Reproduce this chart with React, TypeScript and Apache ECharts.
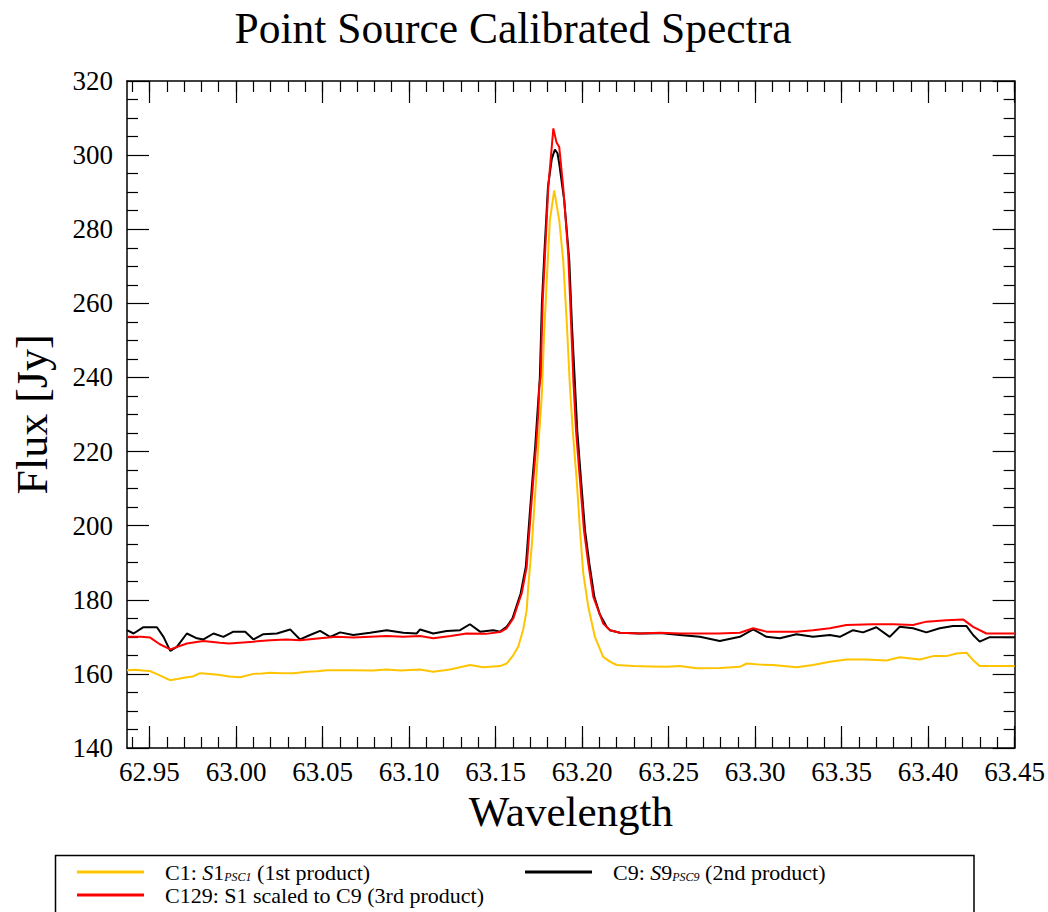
import React, { useEffect, useRef } from "react";
import * as echarts from "echarts";

// Wavelength / flux pairs
const c1Data: [number, number][] = [
  [62.937, 161.0], [62.942, 161.1], [62.946, 160.9], [62.95, 160.8], [62.955, 159.8],
  [62.959, 158.9], [62.962, 158.3], [62.966, 158.6], [62.9716, 159.1], [62.975, 159.3],
  [62.9793, 160.2], [62.985, 160.0], [62.9908, 159.7], [62.996, 159.3], [63.0024, 159.1],
  [63.0101, 160.0], [63.015, 160.1], [63.0197, 160.3], [63.026, 160.2], [63.0332, 160.2],
  [63.0409, 160.6], [63.047, 160.7], [63.0525, 161.0], [63.06, 161.0], [63.0678, 161.0],
  [63.0794, 160.9], [63.0871, 161.2], [63.095, 160.9], [63.1064, 161.2], [63.114, 160.6],
  [63.1237, 161.2], [63.1352, 162.4], [63.1429, 161.8], [63.1526, 162.1], [63.1564, 162.8],
  [63.1602, 165.0], [63.1631, 167.3], [63.166, 172.0], [63.168, 177.2], [63.1689, 183.5],
  [63.1709, 194.3], [63.1728, 207.8], [63.1747, 221.3], [63.1767, 234.8], [63.178, 250.9],
  [63.1799, 268.9], [63.1814, 282.4], [63.1839, 290.5], [63.1868, 282.4], [63.1891, 271.6],
  [63.1911, 255.4], [63.193, 237.5], [63.1946, 225.8], [63.1969, 212.3], [63.1988, 198.8],
  [63.2007, 187.1], [63.2036, 178.1], [63.2074, 170.0], [63.2122, 164.6], [63.2161, 163.3],
  [63.22, 162.4], [63.2296, 162.1], [63.24, 162.0], [63.2489, 161.9], [63.2565, 162.1],
  [63.2662, 161.5], [63.28, 161.6], [63.2912, 161.9], [63.2951, 162.8], [63.303, 162.5],
  [63.3105, 162.4], [63.3239, 161.8], [63.3335, 162.4], [63.3432, 163.3], [63.3528, 163.9],
  [63.3644, 163.9], [63.3759, 163.6], [63.3836, 164.5], [63.3952, 163.9], [63.4029, 164.8],
  [63.4106, 164.8], [63.4164, 165.5], [63.4222, 165.7], [63.426, 163.7], [63.4298, 162.1],
  [63.44, 162.1], [63.45, 162.1],
];

const c9Data: [number, number][] = [
  [62.937, 171.8], [62.9408, 170.9], [62.9465, 172.6], [62.9543, 172.6], [62.9581, 170.0],
  [62.962, 166.2], [62.9658, 167.3], [62.9716, 170.9], [62.9774, 169.6], [62.9812, 169.3],
  [62.987, 170.9], [62.9927, 170.0], [62.9985, 171.4], [63.0053, 171.4], [63.0101, 169.3],
  [63.0158, 170.7], [63.0236, 170.9], [63.0313, 172.0], [63.037, 169.3], [63.0428, 170.5],
  [63.0486, 171.6], [63.0544, 170.0], [63.0602, 171.2], [63.0678, 170.5], [63.0775, 171.1],
  [63.0871, 171.8], [63.0967, 171.1], [63.1044, 170.9], [63.1064, 172.0], [63.114, 170.9],
  [63.1218, 171.6], [63.1295, 171.8], [63.1352, 173.4], [63.141, 171.4], [63.1487, 171.8],
  [63.1526, 171.4], [63.1564, 172.7], [63.1598, 175.0], [63.1645, 181.7], [63.1675, 188.9],
  [63.1698, 203.3], [63.1713, 212.3], [63.1729, 221.3], [63.1742, 230.3], [63.1756, 240.0],
  [63.1768, 260.0], [63.1782, 273.4], [63.1803, 291.4], [63.1825, 299.0], [63.1843, 301.5],
  [63.1858, 300.5], [63.1868, 297.7], [63.1897, 287.8], [63.1926, 271.6], [63.1942, 253.6],
  [63.1957, 240.0], [63.1972, 225.8], [63.1994, 212.3], [63.2017, 198.8], [63.2042, 189.8],
  [63.2071, 180.8], [63.2103, 176.0], [63.2142, 172.7], [63.2161, 171.8], [63.2219, 171.1],
  [63.2334, 170.9], [63.2450, 171.0], [63.2565, 170.5], [63.2681, 170.0], [63.2796, 168.9],
  [63.2912, 170.0], [63.2989, 172.0], [63.3066, 170.0], [63.3143, 169.6], [63.3239, 170.7],
  [63.3335, 170.0], [63.3432, 170.5], [63.349, 170.0], [63.3566, 171.8], [63.3624, 171.2],
  [63.3701, 172.6], [63.3778, 170.0], [63.3836, 172.7], [63.3913, 172.3], [63.399, 171.2],
  [63.4067, 172.3], [63.4144, 172.9], [63.4222, 172.9], [63.426, 170.5], [63.4298, 168.7],
  [63.4356, 169.9], [63.45, 169.9],
];

const c129Data: [number, number][] = [
  [62.937, 170.0], [62.945, 170.0], [62.9504, 169.8], [62.956, 168.0], [62.962, 166.6],
  [62.9716, 168.2], [62.981, 168.9], [62.9908, 168.4], [62.996, 168.2], [63.0101, 168.7],
  [63.0197, 169.1], [63.0293, 169.3], [63.037, 169.1], [63.0486, 169.6], [63.0582, 170.0],
  [63.0678, 169.8], [63.0775, 170.0], [63.0871, 170.2], [63.0967, 170.0], [63.1064, 170.2],
  [63.114, 169.6], [63.124, 170.2], [63.1333, 170.9], [63.1443, 170.8], [63.1526, 171.3],
  [63.1564, 172.3], [63.1603, 175.0], [63.1631, 179.0], [63.1651, 181.7], [63.168, 188.9],
  [63.1703, 203.3], [63.1718, 212.3], [63.1734, 221.3], [63.1747, 230.3], [63.1753, 237.5],
  [63.1761, 240.5], [63.1772, 260.0], [63.1786, 273.4], [63.1805, 291.4], [63.1834, 307.2],
  [63.1852, 303.5], [63.1868, 302.2], [63.1891, 291.4], [63.192, 273.4], [63.1936, 255.4],
  [63.195, 239.0], [63.1965, 225.8], [63.1988, 212.3], [63.2011, 198.8], [63.2036, 189.8],
  [63.2065, 180.8], [63.2122, 173.6], [63.2161, 171.8], [63.2219, 171.1], [63.2334, 170.9],
  [63.245, 171.1], [63.2565, 170.9], [63.2662, 170.9], [63.2789, 170.9], [63.2912, 171.1],
  [63.2989, 172.3], [63.3066, 171.4], [63.3239, 171.4], [63.3335, 171.8], [63.3432, 172.3],
  [63.3528, 173.2], [63.3682, 173.4], [63.3798, 173.4], [63.3913, 173.2], [63.399, 174.1],
  [63.4106, 174.5], [63.4202, 174.7], [63.426, 172.7], [63.4337, 170.9], [63.45, 170.9],
];

const xMajorTicks = [62.95, 63.0, 63.05, 63.1, 63.15, 63.2, 63.25, 63.3, 63.35, 63.4, 63.45];
const xMin = 62.937;
const xMax = 63.45;
const yMin = 140;
const yMax = 320;
const yStep = 20;

const seriesNames = ["C1", "C9", "C129"];
const seriesColors = ["#FFC400", "#000000", "#FF0000"];

const SERIF = '"Liberation Serif", "Times New Roman", serif';

export default function App() {
  const ref = useRef<HTMLDivElement>(null);
  useEffect(() => {
    if (!ref.current) return;
    const chart = echarts.init(ref.current, null, { renderer: "svg" });

    const xMinorTicks: number[] = [];
    for (let k = 0; k <= 51; k++) {
      const v = Math.round((62.94 + k * 0.01) * 1000) / 1000;
      if (v <= xMax + 1e-9) xMinorTicks.push(v);
    }

    const grid = { left: 127, top: 81, width: 888, height: 667 };
    const lineW = 1.5;
    const tickW = 1.2;
    const majorLen = 22;
    const minorLen = 11;

    const baseX = {
      type: "value",
      min: xMin,
      max: xMax,
      splitLine: { show: false },
    };

    const legendText = {
      fontFamily: SERIF,
      fontSize: 22,
      color: "#000",
      padding: [0, 0, 0, 16],
      rich: {
        it: { fontFamily: SERIF, fontSize: 22, fontStyle: "italic", color: "#000" },
        n: { fontFamily: SERIF, fontSize: 22, color: "#000" },
        sub: {
          fontFamily: SERIF,
          fontSize: 12,
          fontStyle: "italic",
          color: "#000",
          verticalAlign: "bottom",
        },
      },
    };
    const legendFormatter = (name: string) => {
      if (name === "C1") return "C1: {it|S}{n|1}{sub|PSC1} (1st product)";
      if (name === "C9") return "C9: {it|S}{n|9}{sub|PSC9} (2nd product)";
      return "C129: S1 scaled to C9 (3rd product)";
    };
    const legendBase = {
      orient: "horizontal",
      itemWidth: 67,
      itemHeight: 3,
      icon: "rect",
      padding: 0,
      selectedMode: false,
      textStyle: legendText,
      formatter: legendFormatter,
    };

    const option: any = {
      animation: false,
      backgroundColor: "#fff",
      textStyle: { fontFamily: SERIF },
      grid,
      graphic: [
        {
          type: "text",
          x: 513,
          y: 28,
          style: {
            text: "Point Source Calibrated Spectra",
            font: `43.5px ${SERIF}`,
            fill: "#000",
            textAlign: "center",
            textVerticalAlign: "middle",
          },
        },
        {
          type: "rect",
          shape: { x: 55.5, y: 855.5, width: 918.5, height: 90 },
          style: { fill: "none", stroke: "#000", lineWidth: 1.5 },
          silent: true,
        },
      ],
      legend: [
        { ...legendBase, data: ["C1"], left: 77, top: 861 },
        { ...legendBase, data: ["C129"], left: 77, top: 884 },
        { ...legendBase, data: ["C9"], left: 525, top: 861 },
      ],
      xAxis: [
        {
          ...baseX,
          position: "bottom",
          name: "Wavelength",
          nameLocation: "middle",
          nameGap: 38,
          nameTextStyle: { fontFamily: SERIF, fontSize: 43, color: "#000" },
          axisLine: { show: true, onZero: false, lineStyle: { color: "#000", width: lineW } },
          axisTick: {
            show: true,
            inside: true,
            length: majorLen,
            customValues: xMajorTicks,
            lineStyle: { color: "#000", width: tickW },
          },
          axisLabel: {
            show: true,
            customValues: xMajorTicks,
            margin: 10,
            fontFamily: SERIF,
            fontSize: 27,
            color: "#000",
            formatter: (v: number) => v.toFixed(2),
          },
        },
        {
          ...baseX,
          position: "bottom",
          axisLine: { show: false, onZero: false },
          axisTick: {
            show: true,
            inside: true,
            length: minorLen,
            customValues: xMinorTicks,
            lineStyle: { color: "#000", width: tickW },
          },
          axisLabel: { show: false },
        },
        {
          ...baseX,
          position: "top",
          axisLine: { show: true, onZero: false, lineStyle: { color: "#000", width: lineW } },
          axisTick: {
            show: true,
            inside: true,
            length: majorLen,
            customValues: xMajorTicks,
            lineStyle: { color: "#000", width: tickW },
          },
          axisLabel: { show: false },
        },
        {
          ...baseX,
          position: "top",
          axisLine: { show: false, onZero: false },
          axisTick: {
            show: true,
            inside: true,
            length: minorLen,
            customValues: xMinorTicks,
            lineStyle: { color: "#000", width: tickW },
          },
          axisLabel: { show: false },
        },
      ],
      yAxis: [
        {
          type: "value",
          position: "left",
          min: yMin,
          max: yMax,
          interval: yStep,
          name: "Flux [Jy]",
          nameLocation: "middle",
          nameGap: 73,
          nameTextStyle: { fontFamily: SERIF, fontSize: 44, color: "#000" },
          splitLine: { show: false },
          axisLine: { show: true, onZero: false, lineStyle: { color: "#000", width: lineW } },
          axisTick: { show: true, inside: true, length: majorLen, lineStyle: { color: "#000", width: tickW } },
          minorTick: { show: true, splitNumber: 4, length: minorLen, lineStyle: { color: "#000", width: tickW } },
          minorSplitLine: { show: false },
          axisLabel: { margin: 14, fontFamily: SERIF, fontSize: 27, color: "#000" },
        },
        {
          type: "value",
          position: "right",
          min: yMin,
          max: yMax,
          interval: yStep,
          splitLine: { show: false },
          axisLine: { show: true, onZero: false, lineStyle: { color: "#000", width: lineW } },
          axisTick: { show: true, inside: true, length: majorLen, lineStyle: { color: "#000", width: tickW } },
          minorTick: { show: true, splitNumber: 4, length: minorLen, lineStyle: { color: "#000", width: tickW } },
          minorSplitLine: { show: false },
          axisLabel: { show: false },
        },
      ],
      series: [
        { name: seriesNames[0], data: c1Data, color: seriesColors[0] },
        { name: seriesNames[1], data: c9Data, color: seriesColors[1] },
        { name: seriesNames[2], data: c129Data, color: seriesColors[2] },
      ].map((s, i) => ({
        type: "line",
        name: s.name,
        data: s.data,
        xAxisIndex: 0,
        yAxisIndex: 0,
        showSymbol: false,
        symbol: "none",
        color: s.color,
        lineStyle: { color: s.color, width: 2 },
        z: 2 + i,
      })),
    };
    chart.setOption(option);
    return () => chart.dispose();
  }, []);

  return (
    <div
      ref={ref}
      style={{ position: "fixed", left: 0, top: 0, width: 1048, height: 912, background: "#fff" }}
    />
  );
}
